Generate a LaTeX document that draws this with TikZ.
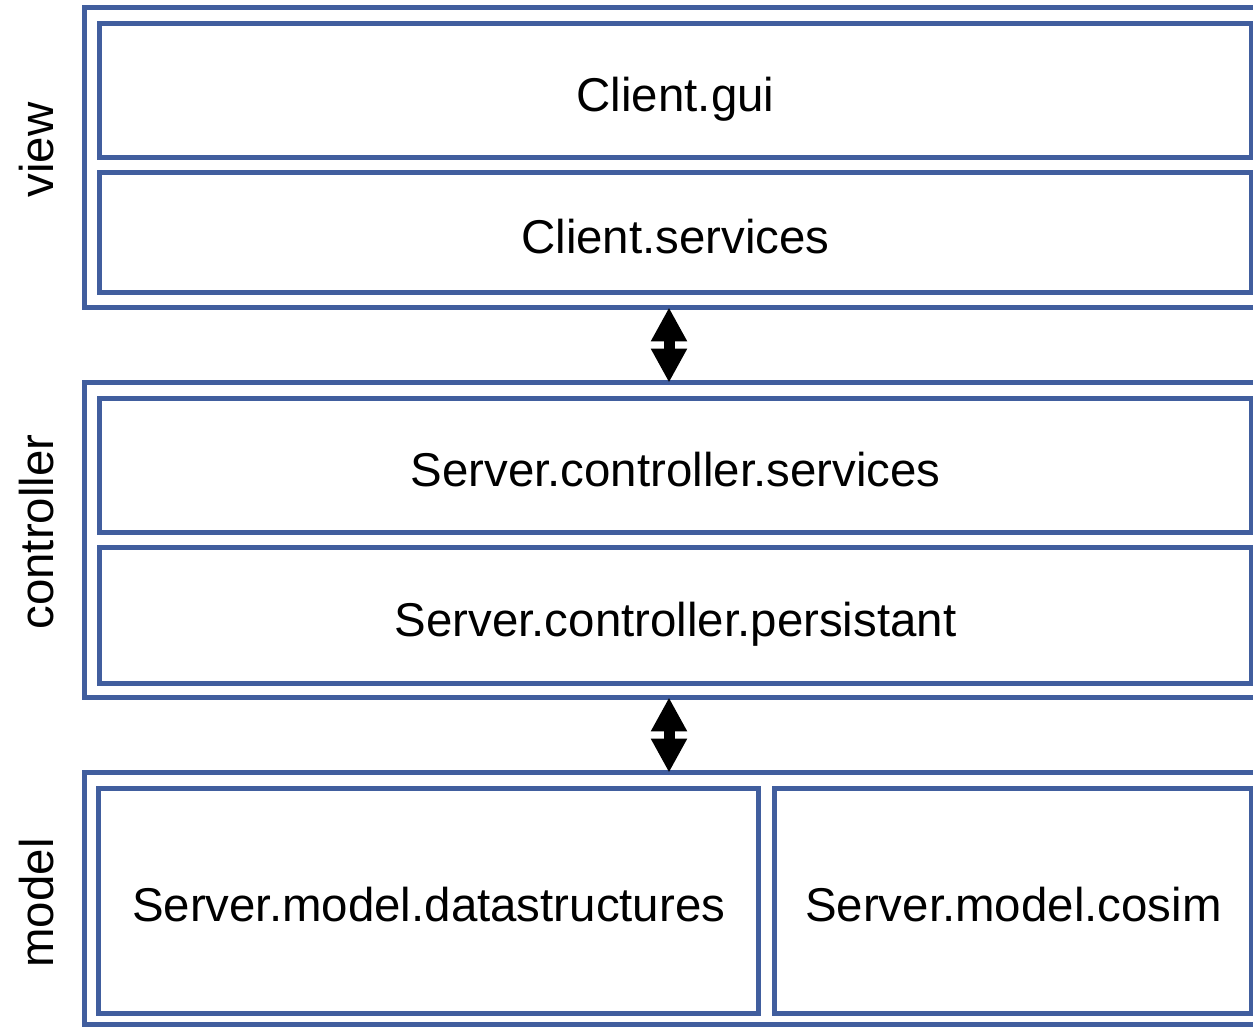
\documentclass[tikz,border=0pt]{standalone}
\usepackage{fontspec}
\setmainfont{Liberation Sans}
\usetikzlibrary{arrows.meta,positioning}
\definecolor{tierblue}{RGB}{65,94,158}
\definecolor{ink}{RGB}{0,0,0}
\tikzset{
  tier/.style={draw=tierblue,line width=0.1cm,outer sep=0pt,inner sep=0pt},
  layer/.style={draw=tierblue,line width=0.1cm,fill=white,outer sep=0pt,inner sep=0pt,
    align=center,font=\fontsize{27}{32}\selectfont,text=ink,text height=0.84cm,text depth=0cm},
  tierlabel/.style={rotate=90,font=\fontsize{27}{32}\selectfont,text=ink},
  link/.style={{Triangle[width=0.68cm,length=0.68cm]}-{Triangle[width=0.68cm,length=0.68cm]},
    line width=0.22cm,draw=ink},
}
\begin{document}
\begin{tikzpicture}[x=0.02cm,y=-0.02cm]
  \useasboundingbox (0,0) rectangle (1253,1028);
  \clip (0,0) rectangle (1253,1028);
  % tiers
  \node[tier,minimum width=23.72cm,minimum height=6cm] (view) at (677,157.5) {};
  \node[tier,minimum width=23.72cm,minimum height=6.3cm] (ctrl) at (677,540) {};
  \node[tier,minimum width=23.72cm,minimum height=5.05cm] (model) at (677,898.75) {};
  % packages
  \node[layer,minimum width=23.06cm,minimum height=2.69cm] (gui) at (675.5,90.25) {Client.gui};
  \node[layer,minimum width=23.06cm,minimum height=2.41cm] (csrv) at (675.5,232.75) {Client.services};
  \node[layer,minimum width=23.06cm,minimum height=2.69cm] (ssrv) at (675.5,465.25) {Server.controller.services};
  \node[layer,minimum width=23.06cm,minimum height=2.71cm] (sper) at (675.5,615.25) {Server.controller.persistant};
  \node[layer,minimum width=13.19cm,minimum height=4.51cm] (mds) at (428.65,900.85) {Server.model.datastructures};
  \node[layer,minimum width=9.54cm,minimum height=4.51cm] (cosim) at (1013.4,900.85) {Server.model.cosim};
  % labels
  \node[tierlabel] (lview) at (37,150) {view};
  \node[tierlabel] (lctrl) at (37,532) {controller};
  \node[tierlabel] (lmodel) at (37,903) {model};
  % links
  \draw[link] ([xshift=-0.16cm]view.south) -- ([xshift=-0.16cm]ctrl.north);
  \draw[link] ([xshift=-0.16cm]ctrl.south) -- ([xshift=-0.16cm]model.north);
\end{tikzpicture}
\end{document}
